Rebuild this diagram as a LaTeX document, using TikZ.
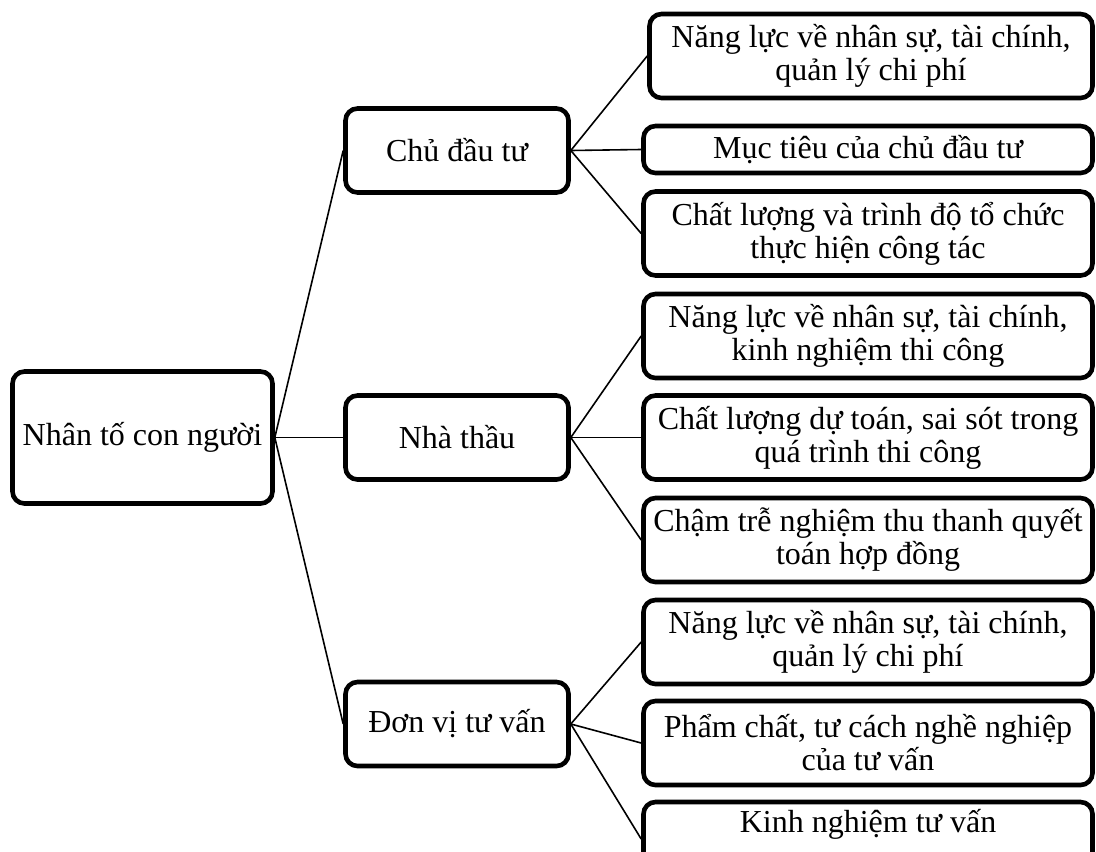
\documentclass[tikz,border=0pt]{standalone}
\usepackage{fontspec}
\setmainfont{Liberation Serif}

\begin{document}
\begin{tikzpicture}[%
          x=0.5pt,y=-0.5pt,
          box/.style={
              draw,
              line width=2.3pt,
              rounded corners=6pt,
              align=center,
              inner sep=0pt,
              font=\fontsize{16}{16.5}\selectfont
            },rootbox/.style={
              box,
              minimum width=130pt,
              minimum height=66pt
            },midbox/.style={
              box,
              minimum width=111.5pt,
              minimum height=42pt
            },leafbox/.style={
              box,
              minimum width=#1,
              minimum height=42pt
            },leafbox/.default=224.5pt
          ,link/.style={
              line width=0.8pt
            }
        ]

        % 図の大きさ
        \useasboundingbox (0,0) rectangle (1096,851);

        % 根のノード
        \node[rootbox] (nhanto) at (142.5,437.5) {Nhân tố con người};

        % 中間のノード
        \node[midbox] (chudautu) at (457,150.5) {Chủ đầu tư};
        \node[midbox] (nhathau) at (457,437.5) {Nhà thầu};
        \node[midbox] (tuvan) at (457,724) {Đơn vị tư vấn};

        % 葉のノード (Chủ đầu tư)
        \node[leafbox=221.5pt] (cdt1) at (871,56)
          {Năng lực về nhân sự, tài chính,\\quản lý chi phí};
        \node[
          leafbox,
          minimum height=23.5pt
        ] (cdt2) at (868,149.5) {Mục tiêu của chủ đầu tư};
        \node[leafbox] (cdt3) at (868,233.5)
          {Chất lượng và trình độ tổ chức\\thực hiện công tác};

        % 葉のノード (Nhà thầu)
        \node[leafbox] (nt1) at (868,336)
          {Năng lực về nhân sự, tài chính,\\kinh nghiệm thi công};
        \node[leafbox] (nt2) at (868,437.5)
          {Chất lượng dự toán, sai sót trong\\quá trình thi công};
        \node[leafbox] (nt3) at (868,540)
          {Chậm trễ nghiệm thu thanh quyết\\toán hợp đồng};

        % 葉のノード (Đơn vị tư vấn)
        \node[leafbox] (tv1) at (868,642)
          {Năng lực về nhân sự, tài chính,\\quản lý chi phí};
        \node[leafbox] (tv2) at (868,743)
          {Phẩm chất, tư cách nghề nghiệp\\của tư vấn};
        \node[
          leafbox,
          minimum height=37pt,
          text height=11pt,
          text depth=18pt
        ] (tv3) at (868,839) {Kinh nghiệm tư vấn};

        % 接続線
        \draw[link] (nhanto.east) -- (chudautu.west);
        \draw[link] (nhanto.east) -- (nhathau.west);
        \draw[link] (nhanto.east) -- (tuvan.west);

        \draw[link] (chudautu.east) -- (cdt1.west);
        \draw[link] (chudautu.east) -- (cdt2.west);
        \draw[link] (chudautu.east) -- (cdt3.west);

        \draw[link] (nhathau.east) -- (nt1.west);
        \draw[link] (nhathau.east) -- (nt2.west);
        \draw[link] (nhathau.east) -- (nt3.west);

        \draw[link] (tuvan.east) -- (tv1.west);
        \draw[link] (tuvan.east) -- (tv2.west);
        \draw[link] (tuvan.east) -- (tv3.west);

      \end{tikzpicture}
\end{document}
